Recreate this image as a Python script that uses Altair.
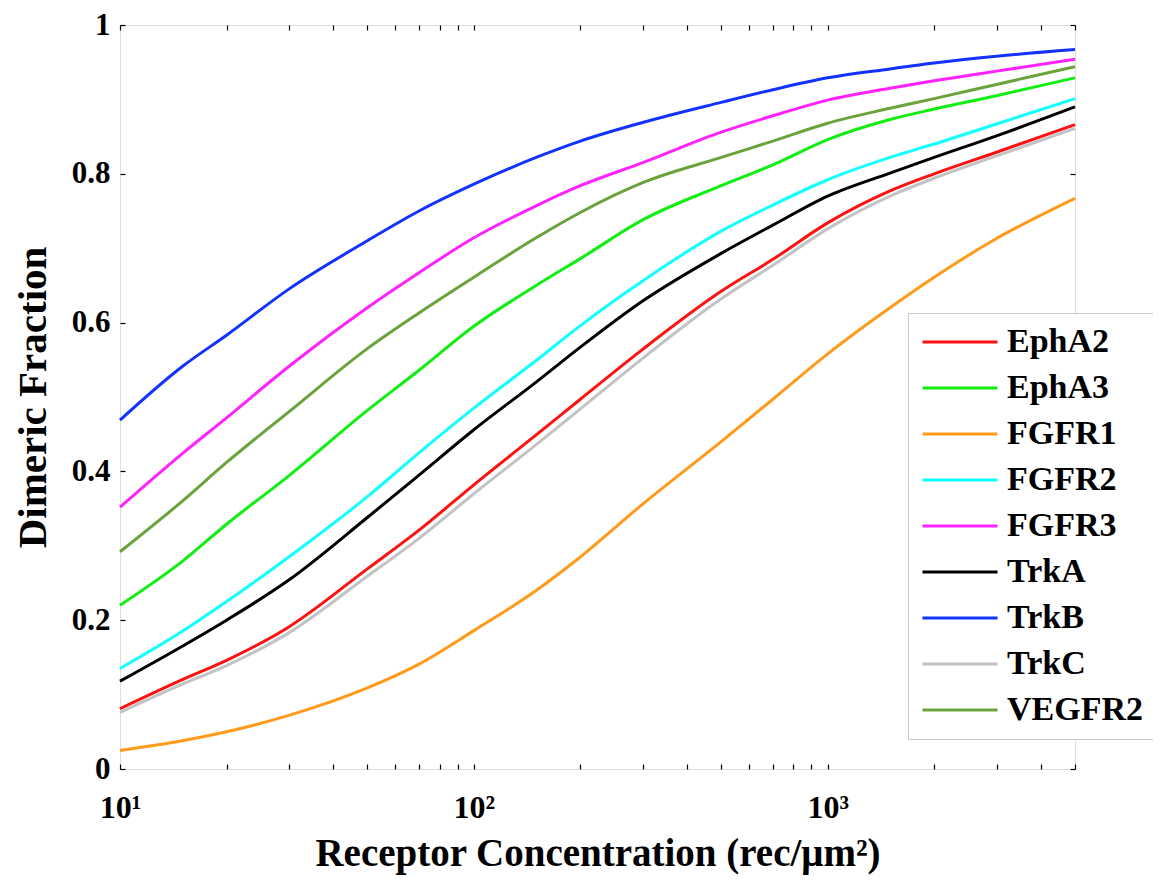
import altair as alt
import pandas as pd

# Receptor concentration (rec/um^2) sample points
conc = [10, 15, 20, 30, 50, 70, 100, 150, 200, 300, 500, 700, 1000, 1500, 2000, 3000, 5000]

receptors = ["EphA2", "EphA3", "FGFR1", "FGFR2", "FGFR3", "TrkA", "TrkB", "TrkC", "VEGFR2"]
colors = ["#ff1111", "#11ee11", "#ff9a1a", "#11ffff", "#ff22ff", "#000000", "#1432ff", "#c3c3c3", "#6aa23c"]

ephA2 = [0.081, 0.120, 0.146, 0.191, 0.269, 0.321, 0.382, 0.449, 0.497, 0.564, 0.642, 0.685, 0.734, 0.777, 0.800, 0.829, 0.866]
ephA3 = [0.220, 0.279, 0.329, 0.394, 0.482, 0.536, 0.595, 0.650, 0.686, 0.738, 0.784, 0.812, 0.846, 0.873, 0.887, 0.905, 0.929]
fgfr1 = [0.025, 0.038, 0.050, 0.072, 0.109, 0.141, 0.186, 0.240, 0.285, 0.356, 0.440, 0.497, 0.558, 0.620, 0.661, 0.713, 0.767]
fgfr2 = [0.135, 0.185, 0.225, 0.285, 0.366, 0.425, 0.485, 0.549, 0.596, 0.656, 0.723, 0.758, 0.792, 0.822, 0.840, 0.867, 0.901]
fgfr3 = [0.352, 0.424, 0.472, 0.541, 0.620, 0.667, 0.714, 0.757, 0.784, 0.815, 0.856, 0.878, 0.899, 0.915, 0.925, 0.938, 0.954]
trkA = [0.118, 0.165, 0.200, 0.254, 0.338, 0.395, 0.456, 0.520, 0.567, 0.629, 0.693, 0.731, 0.770, 0.801, 0.822, 0.851, 0.890]
trkB = [0.469, 0.541, 0.583, 0.645, 0.710, 0.750, 0.786, 0.822, 0.844, 0.869, 0.896, 0.913, 0.929, 0.941, 0.949, 0.958, 0.967]
trkC = [0.076, 0.114, 0.139, 0.183, 0.259, 0.310, 0.370, 0.436, 0.484, 0.552, 0.632, 0.677, 0.726, 0.770, 0.794, 0.824, 0.861]
vegfr2 = [0.292, 0.360, 0.412, 0.480, 0.565, 0.613, 0.661, 0.714, 0.748, 0.788, 0.822, 0.844, 0.868, 0.888, 0.901, 0.920, 0.944]

x_ticks = [10, 20, 30, 40, 50, 60, 70, 80, 90, 100, 200, 300, 400, 500, 600, 700, 800, 900,
           1000, 2000, 3000, 4000, 5000]
y_ticks = [0, 0.2, 0.4, 0.6, 0.8, 1]

series = [ephA2, ephA3, fgfr1, fgfr2, fgfr3, trkA, trkB, trkC, vegfr2]
rows = []
for name, vals in zip(receptors, series):
    for c, v in zip(conc, vals):
        rows.append({"conc": c, "frac": v, "receptor": name})
df = pd.DataFrame(rows)

FONT = "Liberation Serif"

x_scale = alt.Scale(type="log", domain=[10, 5000], nice=False)
y_scale = alt.Scale(domain=[0, 1], nice=False)

x_label_expr = ("datum.value == 10 ? '10\u00b9' : datum.value == 100 ? '10\u00b2' : "
                "datum.value == 1000 ? '10\u00b3' : ''")

lines = alt.Chart(df).mark_line(strokeWidth=3, interpolate="monotone").encode(
    x=alt.X(
        "conc:Q", scale=x_scale,
        axis=alt.Axis(
            orient="bottom", values=x_ticks, labelExpr=x_label_expr,
            title="Receptor Concentration (rec/\u03bcm\u00b2)",
            offset=-5, tickSize=5, tickColor="black", tickWidth=1.2,
            domain=False, grid=False, labelFlush=False, labelOverlap=False,
            labelFont=FONT, labelFontSize=32, labelFontWeight="bold", labelColor="black",
            labelPadding=23,
            titleFont=FONT, titleFontSize=39, titleFontWeight="bold", titleColor="black",
            titlePadding=11,
        ),
    ),
    y=alt.Y(
        "frac:Q", scale=y_scale,
        axis=alt.Axis(
            orient="left", values=y_ticks, labelExpr="format(datum.value, '~g')",
            title="Dimeric Fraction",
            offset=-5, tickSize=5, tickColor="black", tickWidth=1.2,
            domain=False, grid=False, labelFlush=False, labelOverlap=False,
            labelFont=FONT, labelFontSize=31, labelFontWeight="bold", labelColor="black",
            labelPadding=10,
            titleFont=FONT, titleFontSize=41, titleFontWeight="bold", titleColor="black",
            titlePadding=17,
        ),
    ),
    color=alt.Color(
        "receptor:N",
        scale=alt.Scale(domain=receptors, range=colors),
        legend=alt.Legend(
            title=None, orient="none", legendX=788, legendY=288,
            symbolType="M-5,0H5", symbolSize=225, symbolStrokeWidth=3,
            symbolOffset=23, labelOffset=30,
            labelFont=FONT, labelFontSize=34, labelFontWeight="bold", labelColor="black",
            rowPadding=12, padding=12,
            strokeColor="#c8c8c8", fillColor="white",
        ),
    ),
)

frame_ticks = alt.Chart(df).mark_line(opacity=0).encode(
    x=alt.X(
        "conc:Q", scale=x_scale,
        axis=alt.Axis(orient="top", values=x_ticks, labels=False, title=None,
                      offset=-5, tickSize=5, tickColor="black", tickWidth=1.2,
                      domain=False, grid=False),
    ),
    y=alt.Y(
        "frac:Q", scale=y_scale,
        axis=alt.Axis(orient="right", values=y_ticks, labels=False, title=None,
                      offset=-5, tickSize=5, tickColor="black", tickWidth=1.2,
                      domain=False, grid=False),
    ),
    detail="receptor:N",
)

chart = alt.layer(lines, frame_ticks).resolve_axis(
    x="independent", y="independent"
).properties(
    width=955, height=744,
    autosize="none",
    padding={"left": 112, "top": 17, "right": 78, "bottom": 106},
).configure_view(
    stroke="#c0c0c0", strokeWidth=1
).configure(background="white")

chart.save("out.html", embed_options={"renderer": "svg", "actions": False})
